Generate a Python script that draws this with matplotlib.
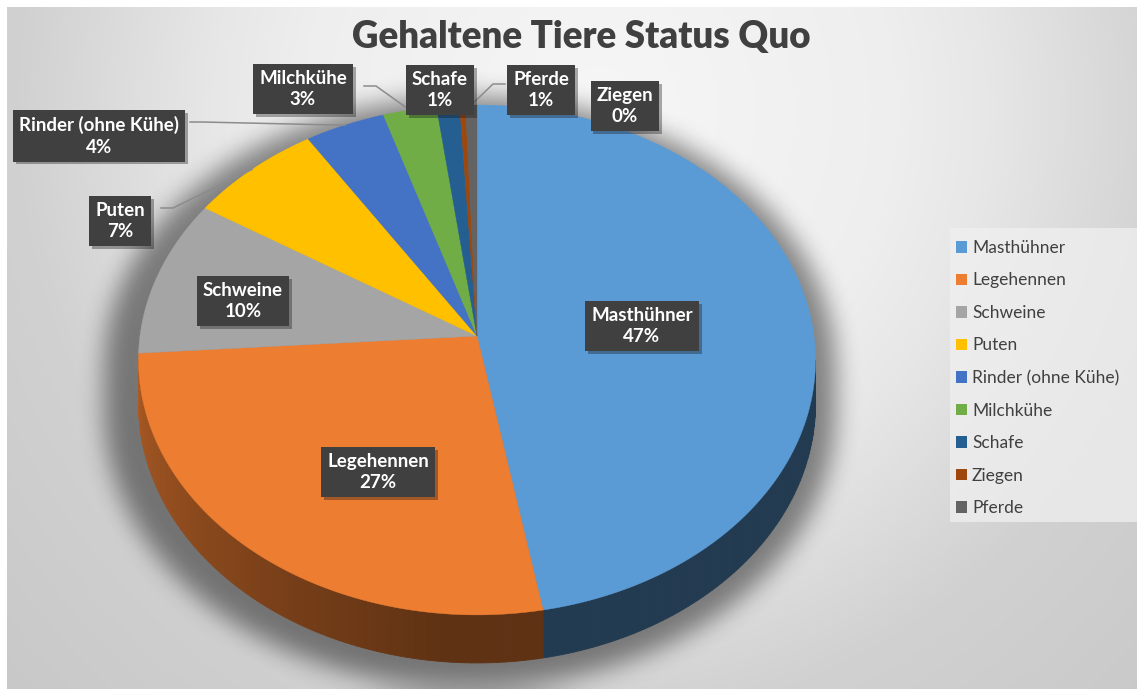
import numpy as np
import matplotlib
matplotlib.use("Agg")
import matplotlib.pyplot as plt
from matplotlib.path import Path
from matplotlib.patches import Polygon, Rectangle, Patch
import matplotlib.patheffects as pe

# -------- DATA --------
tiere = ["Masthühner", "Legehennen", "Schweine", "Puten", "Rinder (ohne Kühe)",
         "Milchkühe", "Schafe", "Ziegen", "Pferde"]
anteile = [47.2, 26.8, 10.0, 7.0, 4.2, 2.8, 1.2, 0.3, 0.6]
farben = ["#5B9BD5", "#ED7D31", "#A5A5A5", "#FFC000", "#4472C4",
          "#70AD47", "#255E91", "#9E480E", "#636363"]

# label box centres (pixels) and leader start points
label_pos = [(642, 326), (378, 472), (243, 301), (120, 221), (99, 136),
             (303, 89), (440, 90), (625, 106), (541, 90)]
leader_start = {3: (161, 208), 4: (190, 122), 5: (364, 86), 8: (505, 84)}

W, H = 1137, 689
CX, CY, RX, RY, K, DEPTH = 477, 336, 337, 252.7, 0.094, 43.5
FONT = "Lato"
GRAU = "#404040"


def rim(phi, drop=0.0):
    p = np.radians(phi)
    X, Y = np.sin(p), np.cos(p)
    s = 1.0 / (1.0 + K * Y)
    return CX + RX * X * s, CY - RY * Y * s + drop * s


def box_blur(a, r, axis):
    widths = [(r, r) if i == axis else (0, 0) for i in range(2)]
    c = np.cumsum(np.pad(a, widths, mode="edge"), axis=axis)
    c = np.insert(c, 0, 0, axis=axis)
    n = a.shape[axis]
    if axis == 0:
        return (c[2 * r + 1:2 * r + 1 + n] - c[:n]) / (2 * r + 1)
    return (c[:, 2 * r + 1:2 * r + 1 + n] - c[:, :n]) / (2 * r + 1)


fig = plt.figure(figsize=(W / 100, H / 100), dpi=100, facecolor="white")
ax = fig.add_axes([0, 0, 1, 1])
ax.set_xlim(0, W)
ax.set_ylim(H, 0)
ax.axis("off")

# -------- BACKGROUND --------
yy, xx = np.mgrid[0:H, 0:W] + 0.5
r = np.hypot((xx - 600) / 650, (yy - 110) / 680)
v = np.interp(r, [0, 0.45, 0.6, 0.89, 1.3], [0.965, 0.935, 0.905, 0.82, 0.78])
bg = np.dstack([v, v, v])
bg[:7, :] = 1.0
bg[:, :7] = 1.0
ax.imshow(bg, extent=(0, W, H, 0), origin="upper", zorder=0, interpolation="bilinear")

# -------- ANGLES --------
total = sum(anteile)
grenzen = np.concatenate([[0], np.cumsum(anteile)]) / total * 360.0
phi_l = np.degrees(np.arccos(-K))          # visible side from here ...
phi_r = 360 - phi_l                          # ... to here

# -------- SHADOW --------
ph_back = np.linspace(phi_r, phi_l + 360, 200) % 360
ph_front = np.linspace(phi_l, phi_r, 200)
sx1, sy1 = rim(ph_back)
sx2, sy2 = rim(ph_front, DEPTH)
sil = np.column_stack([np.concatenate([sx1, sx2]), np.concatenate([sy1, sy2])])
sil = (sil - [477, 420]) * [1.08, 1.06] + [470, 430]
mask = Path(sil).contains_points(np.column_stack([xx.ravel(), yy.ravel()]))
mask = mask.reshape(H, W).astype(float)
for _ in range(3):
    mask = box_blur(box_blur(mask, 11, 0), 11, 1)
shadow = np.zeros((H, W, 4))
shadow[..., 3] = 0.45 * mask
ax.imshow(shadow, extent=(0, W, H, 0), origin="upper", zorder=1, interpolation="bilinear")

# -------- SIDE WALLS --------
for i, farbe in enumerate(farben):
    a, b = max(grenzen[i], phi_l), min(grenzen[i + 1], phi_r)
    if b <= a:
        continue
    base = np.array(matplotlib.colors.to_rgb(farbe))
    steps = np.linspace(a, b, max(2, int((b - a) / 1.0) + 1))
    for p0, p1 in zip(steps[:-1], steps[1:]):
        pm = 0.5 * (p0 + p1)
        f = 0.40 + 0.32 * np.clip((pm - 185) / 80, 0, 1)
        if i == 0:
            f = 0.38
        x0, y0 = rim(p0)
        x1, y1 = rim(p1)
        x2, y2 = rim(p1, DEPTH)
        x3, y3 = rim(p0, DEPTH)
        col = base * f
        ax.add_patch(Polygon([(x0, y0), (x1, y1), (x2, y2), (x3, y3)],
                             closed=True, fc=col, ec=col, lw=0.6, zorder=2))

# -------- TOP FACE --------
for i, farbe in enumerate(farben):
    ph = np.linspace(grenzen[i], grenzen[i + 1], max(2, int(grenzen[i + 1] - grenzen[i]) + 2))
    px, py = rim(ph)
    pts = np.column_stack([np.concatenate([[CX], px]), np.concatenate([[CY], py])])
    ax.add_patch(Polygon(pts, closed=True, fc=farbe, ec=farbe, lw=0.3, zorder=3))

# -------- LEADER LINES --------
for i, (sx, sy) in leader_start.items():
    mid = 0.5 * (grenzen[i] + grenzen[i + 1])
    ex, ey = rim(mid)
    shoulder = sx + (12 if sx < ex else -12)
    ax.plot([sx, shoulder, ex], [sy, sy, ey], color="#8c8c8c", lw=1.1, zorder=4)

# -------- DATA LABELS --------
for i, name in enumerate(tiere):
    pct = round(anteile[i] / total * 100)
    t = ax.text(label_pos[i][0], label_pos[i][1], f"{name}\n{pct}%",
                ha="center", va="center", ma="center", color="white",
                fontsize=13.5, fontweight="bold", family=FONT, linespacing=1.3,
                zorder=6,
                bbox=dict(boxstyle="square,pad=0.32", fc=GRAU, ec="none"))
    t.get_bbox_patch().set_path_effects(
        [pe.SimplePatchShadow(offset=(2, -2), alpha=0.35), pe.Normal()])

# -------- TITLE --------
ax.text(581, 48, "Gehaltene Tiere Status Quo", ha="center", va="baseline",
        fontsize=26.5, fontweight="heavy", family=FONT, color=GRAU, zorder=6)

# -------- LEGEND --------
ax.add_patch(Rectangle((950, 228), W - 950, 294, fc="#f0f0f0", ec="none",
                       alpha=0.75, zorder=5))
handles = [Patch(facecolor=c, edgecolor="none") for c in farben]
leg = ax.legend(handles, tiere, loc="upper left",
                bbox_to_anchor=(956 / W, 1 - 240 / H), bbox_transform=fig.transFigure,
                frameon=False, prop={"family": FONT, "size": 12.5},
                handlelength=0.62, handleheight=0.62, handletextpad=0.3,
                labelspacing=0.95, borderaxespad=0, borderpad=0, labelcolor=GRAU)
leg.set_zorder(7)

fig.savefig("out.png", dpi=100, facecolor=fig.get_facecolor())
